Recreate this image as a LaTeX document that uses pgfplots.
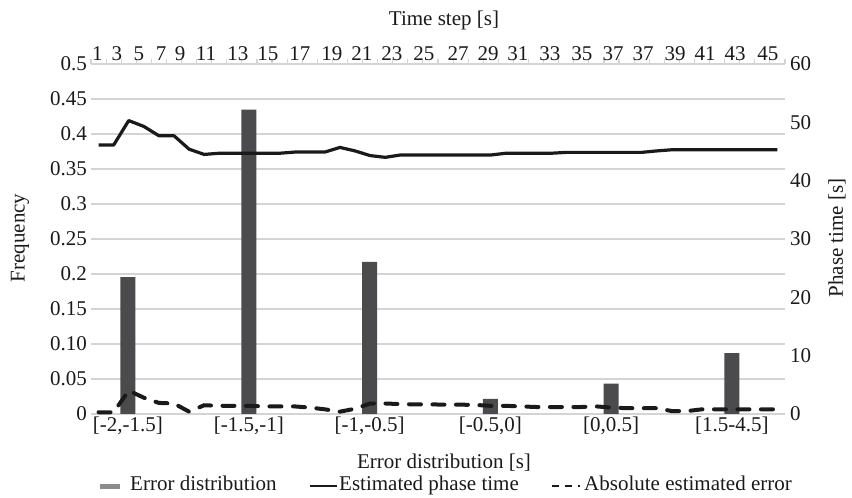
\documentclass[border=0pt]{standalone}
\usepackage{pgfplots}
\pgfplotsset{compat=1.18}
\usepackage{fontspec}
\setmainfont{Liberation Serif}

\definecolor{bargray}{HTML}{4B4B4D}
\definecolor{leggray}{HTML}{8C8C8C}
\definecolor{gridgray}{HTML}{D4D4D4}
\definecolor{ink}{HTML}{1A1A1A}

\begin{document}
\fontsize{21bp}{25bp}\selectfont
\begin{tikzpicture}[font=\fontsize{21bp}{25bp}\selectfont, text=ink]
\path[use as bounding box] (-91bp,-84bp) rectangle (761bp,414bp);

% error distribution (left axis, bottom categories)
\begin{axis}[
  at={(0,0)}, anchor=south west,
  scale only axis, width=694bp, height=350bp,
  xmin=0.694, xmax=6.439, ymin=0, ymax=0.5,
  axis line style={draw=none},
  major tick length=0pt,
  ytick={0,0.05,0.1,0.15,0.2,0.25,0.3,0.35,0.4,0.45,0.5},
  yticklabels={0,0.05,0.10,0.15,0.2,0.25,0.3,0.35,0.4,0.45,0.5},
  yticklabel style={anchor=east, inner sep=0pt, xshift=-4bp},
  xtick={1,2,3,4,5,6},
  xticklabels={{[-2,-1.5]},{[-1.5,-1]},{[-1,-0.5]},{[-0.5,0]},{[0,0.5]},{[1.5-4.5]}},
  xticklabel style={anchor=north, inner sep=0pt, yshift=-3bp},
  ymajorgrids, grid style={gridgray, line width=1.1bp},
  ybar, bar width=15bp,
]
\addplot[fill=bargray, draw=none] coordinates {
  (1,0.1957) (2,0.4348) (3,0.2174) (4,0.0217) (5,0.0435) (6,0.0870)
};
\end{axis}

% phase time and error (right axis, top time steps)
\begin{axis}[
  at={(0,0)}, anchor=south west,
  scale only axis, width=694bp, height=350bp,
  xmin=0.5, xmax=46.5, ymin=0, ymax=60,
  axis x line*=top, axis y line*=right,
  axis line style={draw=none},
  tick align=outside,
  major tick length=0pt, minor tick length=5bp,
  minor tick style={gridgray, line width=1.1bp},
  /pgf/number format/assume math mode=true,
  xtick={0.93,2.22,3.68,5.14,6.40,8.12,10.24,12.23,14.35,16.47,18.46,20.45,
         22.57,24.83,26.82,28.80,30.92,33.04,35.10,37.09,39.21,41.20,43.19,45.37},
  xticklabels={1,3,5,7,9,11,13,15,17,19,21,23,25,27,29,31,33,35,37,37,39,41,43,45},
  minor xtick={0.5,1.5,...,46.5},
  xticklabel style={anchor=base, inner sep=0pt, yshift=4bp},
  ytick={0,10,20,30,40,50,60},
  yticklabels={0,10,20,30,40,50,60},
  yticklabel style={anchor=west, inner sep=0pt, xshift=5bp},
]
% estimated phase time
\addplot[ink, line width=3.2bp, line join=round] coordinates {
  (1,46.1) (2,46.1) (3,50.3) (4,49.3) (5,47.7) (6,47.7) (7,45.4) (8,44.5)
  (9,44.7) (10,44.7) (11,44.7) (12,44.7) (13,44.7) (14,44.9) (15,44.9)
  (16,44.9) (17,45.7) (18,45.1) (19,44.3) (20,44.0) (21,44.4) (22,44.4)
  (23,44.4) (24,44.4) (25,44.4) (26,44.4) (27,44.4) (28,44.7) (29,44.7)
  (30,44.7) (31,44.7) (32,44.85) (33,44.85) (34,44.85) (35,44.85) (36,44.85)
  (37,44.85) (38,45.1) (39,45.3) (40,45.3) (41,45.3) (42,45.3) (43,45.3)
  (44,45.3) (45,45.3) (46,45.3)
};
% absolute estimated error
\addplot[ink, line width=4bp, line cap=round, dash pattern=on 12bp off 11.5bp] coordinates {
  (1,0.3) (2,0.3) (3,4.0) (4,2.8) (5,1.9) (6,1.8) (7,0.4) (8,1.5)
  (9,1.4) (10,1.4) (11,1.4) (12,1.3) (13,1.3) (14,1.3) (15,1.1) (16,0.8)
  (17,0.4) (18,0.9) (19,1.8) (20,1.8) (21,1.7) (22,1.65) (23,1.65) (24,1.6)
  (25,1.6) (26,1.55) (27,1.4) (28,1.4) (29,1.3) (30,1.2) (31,1.2) (32,1.2)
  (33,1.2) (34,1.3) (35,1.1) (36,1.0) (37,1.0) (38,1.0) (39,0.5) (40,0.5)
  (41,0.8) (42,0.8) (43,0.8) (44,0.8) (45,0.8) (46,0.8)
};
\end{axis}

% axis titles
\node at (353bp,394bp) {Time step [s]};
\node at (353bp,-49bp) {Error distribution [s]};
\node[rotate=90] at (-71bp,176bp) {Frequency};
\node[rotate=90] at (746bp,176bp) {Phase time [s]};

% legend
\fill[leggray] (9bp,-74.5bp) rectangle (29bp,-69.5bp);
\node[anchor=base west, inner sep=0pt] at (39bp,-76bp) {Error distribution};
\draw[ink, line width=2.2bp] (219bp,-72bp) -- (246bp,-72bp);
\node[anchor=base west, inner sep=0pt] at (248bp,-76bp) {Estimated phase time};
\draw[ink, line width=2.6bp, dash pattern=on 7bp off 6bp] (461bp,-72bp) -- (489bp,-72bp);
\node[anchor=base west, inner sep=0pt] at (493bp,-76bp) {Absolute estimated error};
\end{tikzpicture}
\end{document}
